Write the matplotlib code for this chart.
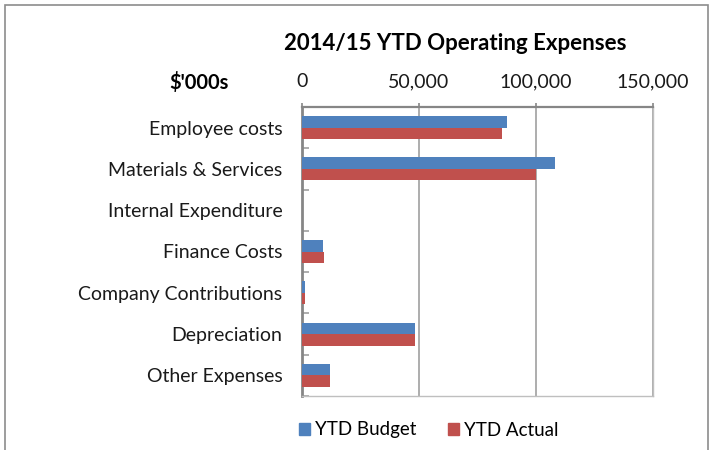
import matplotlib.pyplot as plt
import matplotlib.patches as mpatches
from matplotlib.ticker import FuncFormatter, FixedLocator
import numpy as np

plt.rcParams['font.family'] = ['Lato', 'DejaVu Sans']

# Daten (in $'000s)
categories = ["Employee costs", "Materials & Services", "Internal Expenditure",
              "Finance Costs", "Company Contributions", "Depreciation", "Other Expenses"]
ytd_budget = [87.6, 108.0, 0.0, 9.1, 1.1, 48.2, 11.8]
ytd_actual = [85.3, 100.2, 0.0, 9.5, 1.1, 48.2, 12.1]
# Achse zeigt die Werte wie in Excel (0 .. 150,000)
ytd_budget = [v * 1000 for v in ytd_budget]
ytd_actual = [v * 1000 for v in ytd_actual]

BLUE = "#4F81BD"
RED = "#C0504D"

fig = plt.figure(figsize=(7.16, 4.5), dpi=100)
ax = fig.add_axes([302 / 716, 1 - 396 / 450, 351 / 716, 289 / 450])

y = np.arange(len(categories))
h = 0.28
ax.barh(y - h / 2, ytd_budget, height=h, color=BLUE, linewidth=0, label="YTD Budget", zorder=3)
ax.barh(y + h / 2, ytd_actual, height=h, color=RED, linewidth=0, label="YTD Actual", zorder=3)

ax.set_xlim(0, 150000)
ax.set_ylim(len(categories) - 0.5, -0.5)

# x-Achse oben
ax.xaxis.tick_top()
ax.set_xticks([0, 50000, 100000, 150000])
ax.xaxis.set_major_formatter(FuncFormatter(lambda v, p: f"{int(v):,}"))
ax.tick_params(axis="x", which="major", direction="out", length=3, width=1.2,
               color="#868686", labelsize=14, pad=9, labelcolor="#1a1a1a")
ax.grid(axis="x", color="#A0A0A0", linewidth=1.2, zorder=0)

# y-Achse: Labels mittig, Ticks an Grenzen
ax.set_yticks(y)
ax.set_yticklabels(categories)
ax.yaxis.set_minor_locator(FixedLocator(np.arange(-0.5, len(categories) + 0.5, 1)))
ax.tick_params(axis="y", which="major", length=0, labelsize=14, pad=14, labelcolor="#1a1a1a")
ax.tick_params(axis="y", which="minor", direction="in", length=5, width=1.2, color="#A0A0A0")

for s in ["right", "bottom"]:
    ax.spines[s].set_color("#BFBFBF")
    ax.spines[s].set_linewidth(1.0)
ax.spines["left"].set_color("#868686")
ax.spines["left"].set_linewidth(2.0)
ax.spines["top"].set_color("#868686")
ax.spines["top"].set_linewidth(1.6)

fig.text(455 / 716, 1 - 44 / 450, "2014/15 YTD Operating Expenses", ha="center", va="center",
         fontsize=16, fontweight="bold", color="#000000")
fig.text(199 / 716, 1 - 82 / 450, "$'000s", ha="center", va="center",
         fontsize=14.5, fontweight="bold", color="#000000")

handles = [mpatches.Patch(color=BLUE, label="YTD Budget"),
           mpatches.Patch(color=RED, label="YTD Actual")]
fig.legend(handles=handles, loc="center", bbox_to_anchor=(429 / 716, 1 - 430 / 450),
           ncol=2, frameon=False, fontsize=13.5, handlelength=0.55, handleheight=0.55,
           handletextpad=0.3, columnspacing=1.7)

# Rahmen um das Diagramm
border = mpatches.Rectangle((4.5 / 716, -0.1), 704 / 716, 1.1 - 5 / 450, transform=fig.transFigure,
                            fill=False, edgecolor="#8C8C8C", linewidth=1.2, clip_on=False)
fig.patches.append(border)

fig.savefig("out.png", dpi=100)
